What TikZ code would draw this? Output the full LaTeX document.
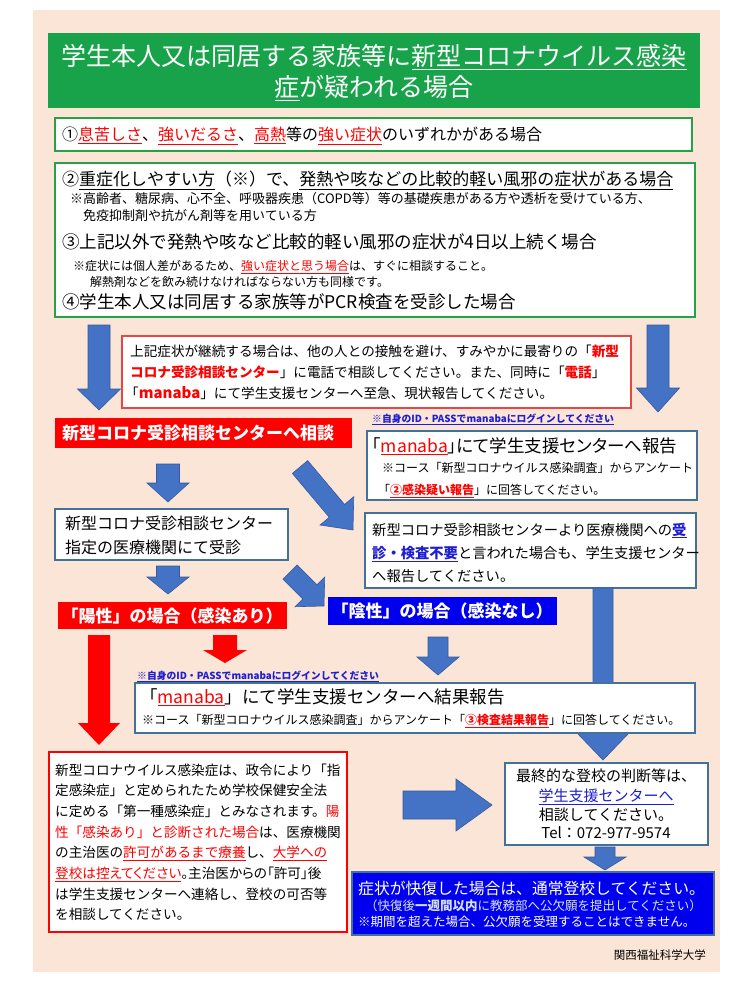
\documentclass[tikz,border=0pt]{standalone}
\usepackage{fontspec}
\setmainfont{Noto Sans CJK JP}
\newfontfamily\pj[RawFeature=+palt]{Noto Sans CJK JP}
\usetikzlibrary{calc}
\definecolor{peach}{RGB}{251,229,214}
\definecolor{hgreen}{RGB}{24,163,75}
\definecolor{bgreen}{RGB}{40,160,70}
\definecolor{abl}{RGB}{68,114,196}
\definecolor{abledge}{RGB}{52,90,160}
\definecolor{bgray}{RGB}{65,113,156}
\definecolor{pblue}{RGB}{0,0,238}
\definecolor{lnk}{RGB}{30,30,210}
\definecolor{rbord}{RGB}{230,70,70}
\definecolor{lightt}{RGB}{215,225,255}
\newcommand\fsz[1]{\fontsize{#1}{#1}\selectfont}
\newcommand\uln[1]{\underline{#1}}
\newcommand\rd[1]{\textcolor{red}{#1}}
\newcommand\lk[1]{\textcolor{lnk}{#1}}
% block arrow: style, from, to, half shaft, half head, head length
\newcommand\blockarrow[6]{%
  \path[#1] let \p1=#2, \p2=#3,
    \n1={veclen(\x2-\x1,\y2-\y1)}, \n2={(\x2-\x1)/\n1}, \n3={(\y2-\y1)/\n1}, \n4={\n1-#6} in
    ({\x1-#4*\n3},{\y1+#4*\n2})
    -- ({\x1+\n4*\n2-#4*\n3},{\y1+\n4*\n3+#4*\n2})
    -- ({\x1+\n4*\n2-#5*\n3},{\y1+\n4*\n3+#5*\n2})
    -- (\p2)
    -- ({\x1+\n4*\n2+#5*\n3},{\y1+\n4*\n3-#5*\n2})
    -- ({\x1+\n4*\n2+#4*\n3},{\y1+\n4*\n3-#4*\n2})
    -- ({\x1+#4*\n3},{\y1-#4*\n2}) -- cycle;}
\begin{document}
\begin{tikzpicture}[x=1pt,y=1pt,
  L/.style={anchor=base west, inner sep=0pt},
  C/.style={anchor=base, inner sep=0pt},
  gbox/.style={draw=bgreen, line width=2.4pt, fill=white},
  bbox/.style={draw=bgray, line width=1.3pt, fill=white},
  rbox/.style={draw=rbord, line width=1.2pt, fill=white},
  redfill/.style={fill=red},
  bluefill/.style={fill=pblue},
  barrow/.style={fill=abl, draw=abledge, line width=0.6pt},
  rarrow/.style={fill=red},
  note/.style={L, font=\fsz{9.8}\bfseries, text=lnk}]
\useasboundingbox (0,0) rectangle (750,-1000);
\fill[white] (0,0) rectangle (750,-1000);
\fill[peach] (33,-10) rectangle (720,-972);

% header
\fill[hgreen] (48,-33) rectangle (700,-108);
\node[C, text=white, font=\fsz{25}] (h1) at (374,-66) {学生本人又は同居する家族等に\uln{新型コロナウイルス感染}};
\node[C, text=white, font=\fsz{25}] (h2) at (374,-97) {\uln{症}が疑われる場合};

% box 1
\draw[gbox] (55,-118) rectangle (692,-151);
\node[L, font=\fsz{16}] (b1) at (62,-141) {①\rd{\uln{息苦しさ}}、\rd{\uln{強いだるさ}}、\rd{\uln{高熱}}等の\rd{\uln{強い症状}}のいずれかがある場合};

% box 2
\draw[gbox] (55,-163) rectangle (695,-317);
\node[L, font=\fsz{17}] (l1) at (62,-186) {②\uln{重症化しやすい方}（※）で、\uln{発熱や咳などの比較的軽い風邪の症状がある場合}};
\node[L, font=\fsz{13}] (n1) at (70,-204) {※高齢者、糖尿病、心不全、呼吸器疾患（COPD等）等の基礎疾患がある方や透析を受けている方、};
\node[L, font=\fsz{13}] (n2) at (83,-221) {免疫抑制剤や抗がん剤等を用いている方};
\node[L, font=\fsz{17.5}] (l3) at (62,-248.5) {③上記以外で発熱や咳など比較的軽い風邪の症状が4日以上続く場合};
\node[L, font=\fsz{12}] (n3) at (73,-270.5) {※症状には個人差があるため、\rd{\uln{強い症状と思う場合}}は、すぐに相談すること。};
\node[L, font=\fsz{12}] (n4) at (90,-286.5) {解熱剤などを飲み続けなければならない方も同様です。};
\node[L, font=\fsz{17.5}] (l4) at (62,-308.5) {④学生本人又は同居する家族等がPCR検査を受診した場合};

% big arrows
\blockarrow{barrow}{(99,-325)}{(99,-410)}{11}{21.5}{21}
\blockarrow{barrow}{(658,-325)}{(658,-412)}{11}{21.5}{24}

% red text box
\draw[rbox] (122,-336) rectangle (631,-408);
\node[L, font=\fsz{13.6}] (t1) at (130,-356) {上記症状が継続する場合は、他の人との接触を避け、すみやかに最寄りの「\rd{\bfseries 新型}};
\node[L, font=\fsz{13.6}] (t2) at (130,-377) {\rd{\bfseries コロナ受診相談センター}」に電話で相談してください。また、同時に「\rd{\bfseries 電話}」};
\node[L, font=\fsz{13.6}] (t3) at (125,-398) {「\rd{\bfseries\fsz{15}manaba}」にて学生支援センターへ至急、現状報告してください。};

% consult box
\fill[redfill] (55,-418) rectangle (352,-448);
\node[C, text=white, font=\fsz{17}\bfseries] (cons) at (198,-439) {新型コロナ受診相談センターへ相談};

% manaba report box
\node[note] (note1) at (372,-422) {\uln{※自身のID・PASSでmanabaにログインしてください}};
\draw[bbox] (367,-431) rectangle (697,-500);
\node[L, font=\fsz{17.5}\pj] (m1) at (372,-452.5) {「\rd{\uln{manaba}}」にて学生支援センターへ報告};
\node[L, font=\fsz{12}] (m2) at (382,-472.5) {※コース「新型コロナウイルス感染調査」からアンケート};
\node[L, font=\fsz{12}] (m3) at (378,-494.5) {「\rd{\bfseries\uln{②感染疑い報告}}」に回答してください。};

% arrows to clinic
\blockarrow{barrow}{(168,-464)}{(168,-502)}{11.5}{21}{19}
\blockarrow{barrow}{(300,-467)}{(353,-530)}{10}{22}{25}

% clinic box
\draw[bbox] (55,-509) rectangle (288,-560);
\node[L, font=\fsz{16}] (c1) at (65,-529) {新型コロナ受診相談センター};
\node[L, font=\fsz{16}] (c2) at (65,-553) {指定の医療機関にて受診};

% not required box
\draw[bbox] (365,-513) rectangle (696,-588);
\node[L, font=\fsz{14.3}] (r1) at (372,-535) {新型コロナ受診相談センターより医療機関への\lk{\bfseries\uln{受}}};
\node[L, font=\fsz{14.3}] (r2) at (372,-558) {\lk{\bfseries\uln{診・検査不要}}と言われた場合も、学生支援センター};
\node[L, font=\fsz{14.3}] (r3) at (372,-581) {へ報告してください。};

% arrows to results
\blockarrow{barrow}{(168,-566)}{(168,-594)}{11.5}{21}{17}
\blockarrow{barrow}{(290,-572)}{(324,-606)}{10}{21}{20}
\blockarrow{barrow}{(603,-588)}{(603,-760)}{10}{26}{27}

% positive / negative
\fill[redfill] (58,-602) rectangle (287,-629);
\node[C, text=white, font=\fsz{17}\bfseries] (pos) at (172,-622) {「陽性」の場合（感染あり）};
\fill[bluefill] (328,-597) rectangle (557,-625);
\node[C, text=white, font=\fsz{17}\bfseries] (neg) at (442,-617) {「陰性」の場合（感染なし）};

\blockarrow{rarrow}{(99,-635)}{(99,-745)}{11}{21}{22}
\blockarrow{rarrow}{(225,-635)}{(225,-663)}{12}{22}{13}
\blockarrow{barrow}{(438,-637)}{(438,-675)}{10}{21}{18}

% result box
\node[note] (note2) at (137,-679) {\uln{※自身のID・PASSでmanabaにログインしてください}};
\draw[bbox] (135,-683) rectangle (695,-733);
\node[L, font=\fsz{17.5}] (k1) at (140,-703.5) {「\rd{\uln{manaba}}」にて学生支援センターへ結果報告};
\node[L, font=\fsz{12}] (k2) at (142,-724.5) {※コース「新型コロナウイルス感染調査」からアンケート「\rd{\bfseries\uln{③検査結果報告}}」に回答してください。};

% positive explanation
\draw[draw=red, line width=1.4pt, fill=white] (49,-752) rectangle (347,-932);
\begin{scope}[font=\fsz{13.6}]
\node[L] (p1) at (55,-775) {新型コロナウイルス感染症は、政令により「指};
\node[L] (p2) at (55,-795.7) {定感染症」と定められたため学校保健安全法};
\node[L] (p3) at (55,-816.4) {に定める「第一種感染症」とみなされます。\rd{陽}};
\node[L] (p4) at (55,-837.1) {\rd{性「感染あり」と診断された場合}は、医療機関};
\node[L] (p5) at (55,-857.8) {の主治医の\rd{\uln{許可があるまで療養}}し、\rd{\uln{大学への}}};
\node[L, font=\fsz{13.6}\pj] (p6) at (55,-878.5) {\rd{\uln{登校は控えてください}}。主治医からの「許可」後};
\node[L] (p7) at (55,-899.2) {は学生支援センターへ連絡し、登校の可否等};
\node[L] (p8) at (55,-919.9) {を相談してください。};
\end{scope}

\blockarrow{barrow}{(403,-805)}{(492,-805)}{14}{26}{36}

% final box
\draw[bbox] (505,-763) rectangle (708,-845);
\begin{scope}[font=\fsz{15}]
\node[C] (f1) at (606,-781.5) {最終的な登校の判断等は、};
\node[C] (f2) at (606,-801.5) {\lk{\uln{学生支援センターへ}}};
\node[C] (f3) at (606,-820.5) {相談してください。};
\node[C] (f4) at (606,-838.5) {Tel：072-977-9574};
\end{scope}

\blockarrow{barrow}{(605,-847)}{(605,-870)}{10}{21}{13}

% bottom blue box
\draw[draw=bgray, line width=1.2pt, fill=pblue] (352,-872) rectangle (714,-935);
\node[L, text=white, font=\fsz{15.8}] (z1) at (358,-894) {症状が快復した場合は、通常登校してください。};
\node[L, text=lightt, font=\fsz{12.5}] (z2) at (365,-910.6) {（快復後\textbf{一週間以内}に教務部へ公欠願を提出してください）};
\node[L, text=white, font=\fsz{12.5}] (z3) at (358,-926.6) {※期間を超えた場合、公欠願を受理することはできません。};

\node[anchor=base east, inner sep=0, font=\fsz{11.5}] (foot) at (706,-959) {関西福祉科学大学};
\end{tikzpicture}
\end{document}
